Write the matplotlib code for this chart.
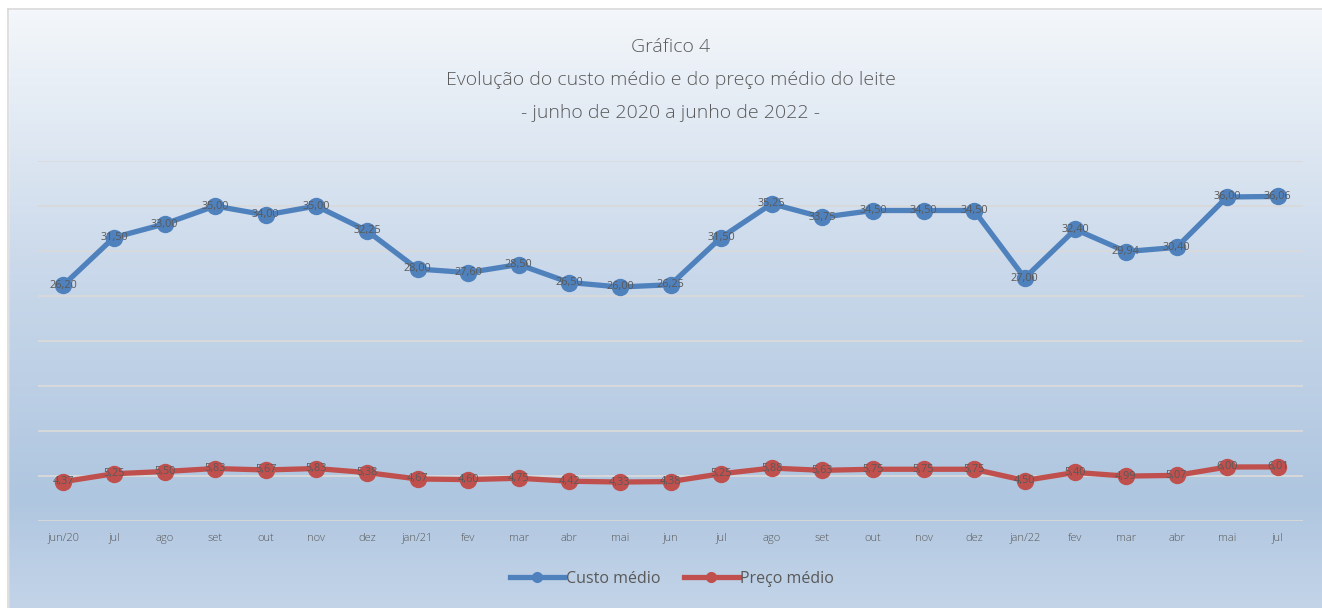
import numpy as np
import matplotlib.pyplot as plt
from matplotlib.colors import LinearSegmentedColormap
from matplotlib.lines import Line2D
from matplotlib.patches import Rectangle

# Data
months = ["jun/20", "jul", "ago", "set", "out", "nov", "dez", "jan/21", "fev", "mar",
          "abr", "mai", "jun", "jul", "ago", "set", "out", "nov", "dez", "jan/22",
          "fev", "mar", "abr", "mai", "jul"]
custo = [26.20, 31.50, 33.00, 35.00, 34.00, 35.00, 32.25, 28.00, 27.60, 28.50,
         26.50, 26.00, 26.25, 31.50, 35.25, 33.75, 34.50, 34.50, 34.50, 27.00,
         32.40, 29.94, 30.40, 36.00, 36.06]
preco = [4.37, 5.25, 5.50, 5.83, 5.67, 5.83, 5.38, 4.67, 4.60, 4.75,
         4.42, 4.33, 4.38, 5.25, 5.88, 5.63, 5.75, 5.75, 5.75, 4.50,
         5.40, 4.99, 5.07, 6.00, 6.01]

title_lines = ["Gráfico 4",
               "Evolução do custo médio e do preço médio do leite",
               "- junho de 2020 a junho de 2022 -"]

blue = "#4f81bd"
red = "#c0504d"
txt = "#595959"
plt.rcParams['font.family'] = ['Open Sans', 'DejaVu Sans']

fig = plt.figure(figsize=(13.22, 6.08), dpi=100)
W, H = 1322, 608

# background gradient (light at top, blue-ish lower down)
bg = fig.add_axes([0, 0, 1, 1], zorder=0)
cmap = LinearSegmentedColormap.from_list(
    "bg", [(0.0, "#c3d4e8"), (0.18, "#afc6e0"), (0.55, "#c9d8ea"), (1.0, "#f5f8fb")])
grad = np.linspace(0, 1, 256).reshape(-1, 1)
bg.imshow(grad, aspect="auto", cmap=cmap, origin="lower", extent=[0, 1, 0, 1])
bg.set_xlim(0, 1)
bg.set_ylim(0, 1)
bg.axis("off")
# white margin above/left of chart box and its border
bg.add_patch(Rectangle((0, 1 - 9 / H), 1, 9 / H, color="white", zorder=2))
bg.add_patch(Rectangle((0, 0), 8 / W, 1, color="white", zorder=2))
bg.plot([8 / W, 8 / W], [0, 1 - 9 / H], color="#d9d9d9", lw=1.2, zorder=3)
bg.plot([8 / W, 1], [1 - 9 / H, 1 - 9 / H], color="#d9d9d9", lw=1.2, zorder=3)

ax = fig.add_axes([38 / W, 1 - 521 / H, (1303 - 38) / W, (521 - 161) / H], zorder=1)
ax.patch.set_alpha(0)
x = np.arange(len(months))

ax.set_ylim(0, 40)
ax.set_xlim(-0.5, len(months) - 0.5)
ax.set_yticks(np.arange(0, 41, 5))
ax.yaxis.grid(True, color="#d9d9d9", lw=1.3)
ax.set_axisbelow(True)
ax.tick_params(axis="y", left=False, labelleft=False)
ax.tick_params(axis="x", bottom=False, labelsize=8, colors=txt, pad=5)
ax.set_xticks(x)
ax.set_xticklabels(months, fontweight="light")
for s in ax.spines.values():
    s.set_visible(False)

for vals, c in [(custo, blue), (preco, red)]:
    ax.plot(x, vals, color=c, lw=3.8, marker="o", ms=11.5, zorder=3,
            solid_capstyle="round", solid_joinstyle="round")
    for xi, v in zip(x, vals):
        ax.text(xi, v, f"{v:.2f}".replace(".", ","), ha="center", va="center",
                fontsize=7.8, color=txt, zorder=4)

ys = [47, 80, 113]
for t, yy in zip(title_lines, ys):
    fig.text(0.5 * (38 + 1303) / W, 1 - yy / H, t, ha="center", va="center",
             fontsize=14, color=txt, fontweight="light")

handles = [Line2D([0], [0], color=blue, lw=3.8, marker="o", ms=7),
           Line2D([0], [0], color=red, lw=3.8, marker="o", ms=7)]
fig.legend(handles, ["Custo médio", "Preço médio"], loc="center",
           bbox_to_anchor=(672 / W, 1 - 579 / H), ncol=2, frameon=False,
           fontsize=11.5, labelcolor=txt, handlelength=3.4, handletextpad=0.1,
           columnspacing=1.5)

fig.savefig("out.png", dpi=100)
